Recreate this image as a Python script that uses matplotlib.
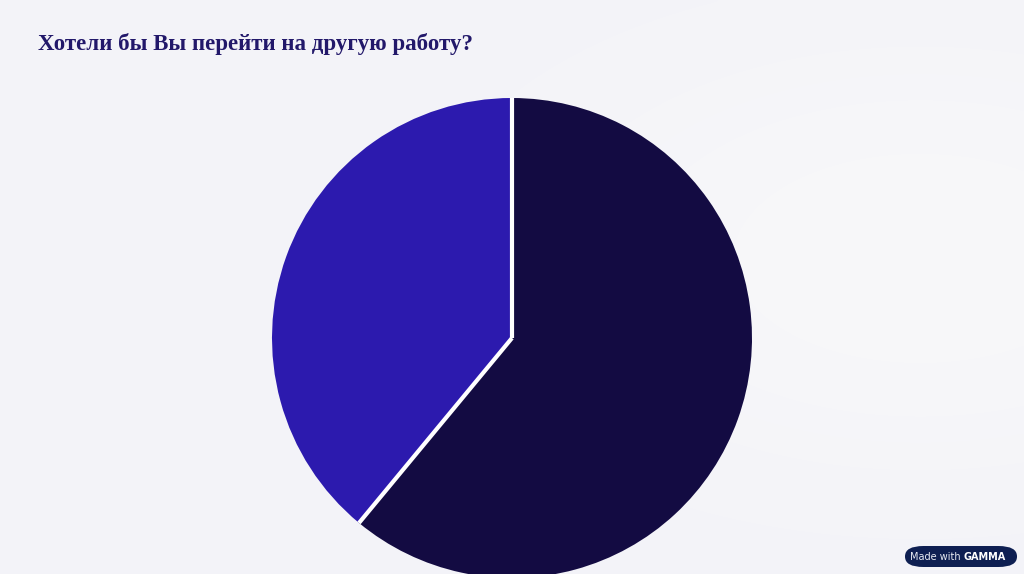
import numpy as np
import matplotlib.pyplot as plt
from matplotlib.patches import FancyBboxPatch

# ---------------- data ----------------
title = "Хотели бы Вы перейти на другую работу?"
labels = ["Нет", "Да"]
shares = [61, 39]
colors = ["#130b42", "#2c1aae"]

# ---------------- figure ----------------
W, H = 1024, 574
fig = plt.figure(figsize=(W / 100, H / 100), dpi=100)
fig.patch.set_facecolor("#f4f4f9")

# subtle background shading (very light lavender-grey)
bg = fig.add_axes([0, 0, 1, 1], zorder=0)
yy, xx = np.mgrid[0:1:200j, 0:1:360j]
glow = np.exp(-((xx - 0.9) ** 2 + (yy - 0.45) ** 2) / 0.15)
base = np.array([243, 243, 248]) / 255.0
light = np.array([248, 248, 250]) / 255.0
img = base + (light - base) * glow[..., None]
bg.imshow(img, aspect="auto", extent=[0, 1, 0, 1], interpolation="bicubic")
bg.axis("off")

# pie: center (512, 338) px, radius 240 px
cx, cy, r = 512, 338, 240
ax = fig.add_axes([(cx - r) / W, (H - cy - r) / H, 2 * r / W, 2 * r / H], zorder=1)
wedges, _ = ax.pie(shares, colors=colors, startangle=90, counterclock=False,
                   radius=1, wedgeprops=dict(linewidth=0))
# white separators between the slices (no outer ring)
ang = 90.0
for s in shares:
    t = np.deg2rad(ang)
    ax.plot([0, np.cos(t)], [0, np.sin(t)], color="white", lw=3,
            solid_capstyle="butt", clip_on=False, zorder=3)
    ang -= 360.0 * s / sum(shares)
ax.set_xlim(-1, 1)
ax.set_ylim(-1, 1)
ax.set_aspect("equal")
ax.axis("off")
for p in wedges:
    p.set_clip_on(False)

fig.text(38 / W, 1 - 44 / H, title, fontsize=16.5, fontweight="bold",
         family="Liberation Serif", color="#22186a", va="center", ha="left")

# "Made with GAMMA" badge
badge = FancyBboxPatch((905 / W, 1 - 567 / H), 112 / W, 21 / H,
                       boxstyle="round,pad=0,rounding_size=0.018",
                       transform=fig.transFigure, facecolor="#0e1f52",
                       edgecolor="none", zorder=3)
fig.patches.append(badge)
fig.text(964 / W, 1 - 557 / H, "Made with ", fontsize=7, color="#e8ebf3",
         ha="right", va="center", zorder=4)
fig.text(964 / W, 1 - 557 / H, "GAMMA", fontsize=7, color="white",
         fontweight="bold", ha="left", va="center", zorder=4)

fig.savefig("out.png", dpi=100)
